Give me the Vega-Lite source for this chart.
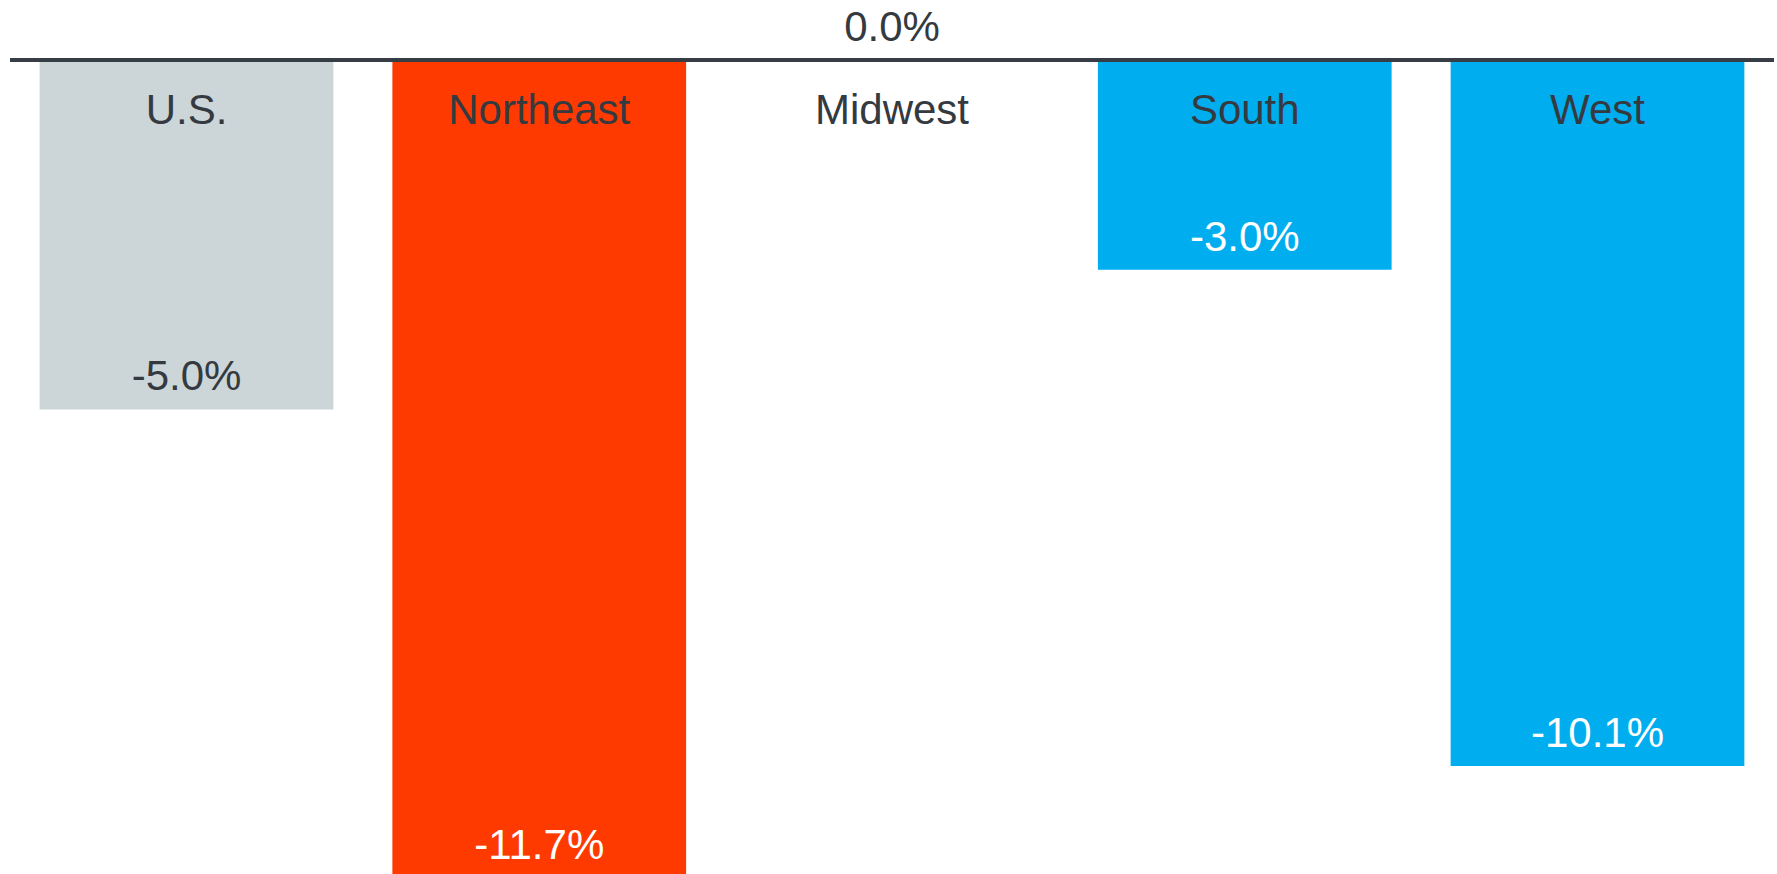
{
  "$schema": "https://vega.github.io/schema/vega-lite/v6.json",
  "width": 1764,
  "height": 874,
  "padding": {"left": 8, "right": 5, "top": 0, "bottom": 0},
  "background": "white",
  "config": {"view": {"stroke": null}, "text": {"font": "Liberation Sans"}},
  "data": {
    "values": [
      {"Region": "U.S.", "Change": -5.0},
      {"Region": "Northeast", "Change": -11.7},
      {"Region": "Midwest", "Change": 0.0},
      {"Region": "South", "Change": -3.0},
      {"Region": "West", "Change": -10.1}
    ]
  },
  "transform": [
    {"calculate": "replace(format(datum.Change, '.1f'), '\u2212', '-') + '%'", "as": "Label"}
  ],
  "layer": [
    {
      "mark": {"type": "bar", "clip": true},
      "encoding": {
        "x": {
          "field": "Region",
          "type": "nominal",
          "sort": null,
          "axis": null,
          "scale": {"paddingInner": 0.1673, "paddingOuter": 0.084}
        },
        "y": {
          "field": "Change",
          "type": "quantitative",
          "axis": null,
          "scale": {"domain": [-11.645, 0.858], "nice": false, "zero": false}
        },
        "y2": {"datum": 0},
        "color": {
          "field": "Region",
          "type": "nominal",
          "legend": null,
          "scale": {
            "domain": ["U.S.", "Northeast", "Midwest", "South", "West"],
            "range": ["#CCD5D8", "#FF3A00", "#FFFFFF", "#00AEEF", "#00AEEF"]
          }
        }
      }
    },
    {
      "mark": {"type": "rule", "color": "#363D44", "strokeWidth": 4},
      "encoding": {"y": {"datum": 0, "type": "quantitative"}}
    },
    {
      "mark": {"type": "text", "fontSize": 42, "baseline": "alphabetic", "align": "center", "dy": 64, "color": "#343A40"},
      "encoding": {
        "x": {"field": "Region", "type": "nominal", "sort": null, "axis": null},
        "y": {"datum": 0, "type": "quantitative"},
        "text": {"field": "Region"}
      }
    },
    {
      "mark": {"type": "text", "fontSize": 42, "baseline": "alphabetic", "align": "center", "dy": -19},
      "encoding": {
        "x": {"field": "Region", "type": "nominal", "sort": null, "axis": null},
        "y": {"field": "Change", "type": "quantitative"},
        "text": {"field": "Label"},
        "color": {
          "condition": {"test": "datum.Region === 'U.S.' || datum.Change === 0", "value": "#343A40"},
          "value": "#FFFFFF"
        }
      }
    }
  ]
}
